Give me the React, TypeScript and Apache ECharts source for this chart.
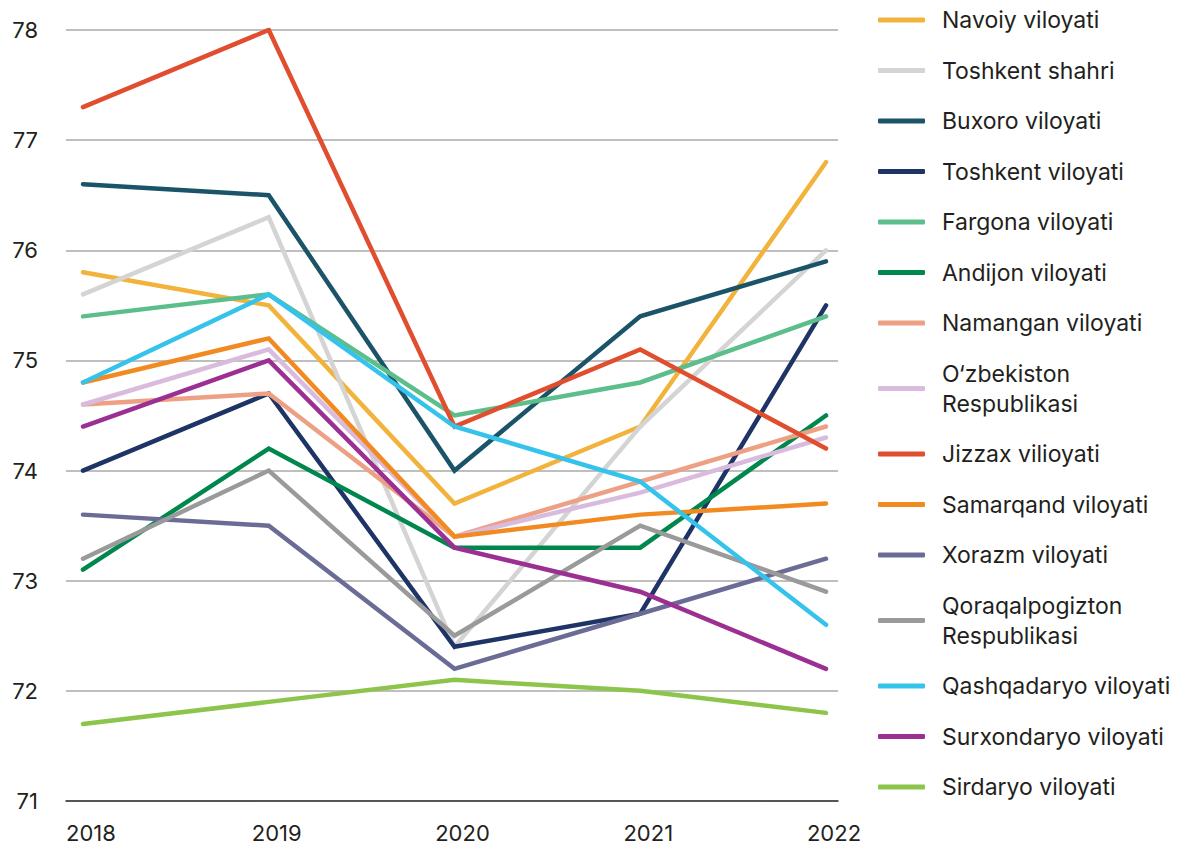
import React, { useEffect, useRef } from "react";
import * as echarts from "echarts";

const years = ["2018", "2019", "2020", "2021", "2022"];
const yTicks = { min: 71, max: 78, interval: 1 };

const navoiy = [75.8, 75.5, 73.7, 74.4, 76.8];
const toshkentShahri = [75.6, 76.3, 72.4, 74.4, 76.0];
const buxoro = [76.6, 76.5, 74.0, 75.4, 75.9];
const toshkentViloyati = [74.0, 74.7, 72.4, 72.7, 75.5];
const fargona = [75.4, 75.6, 74.5, 74.8, 75.4];
const andijon = [73.1, 74.2, 73.3, 73.3, 74.5];
const namangan = [74.6, 74.7, 73.4, 73.9, 74.4];
const ozbekiston = [74.6, 75.1, 73.4, 73.8, 74.3];
const jizzax = [77.3, 78.0, 74.4, 75.1, 74.2];
const samarqand = [74.8, 75.2, 73.4, 73.6, 73.7];
const xorazm = [73.6, 73.5, 72.2, 72.7, 73.2];
const qoraqalpogiston = [73.2, 74.0, 72.5, 73.5, 72.9];
const qashqadaryo = [74.8, 75.6, 74.4, 73.9, 72.6];
const surxondaryo = [74.4, 75.0, 73.3, 72.9, 72.2];
const sirdaryo = [71.7, 71.9, 72.1, 72.0, 71.8];

const seriesNames = [
  "Navoiy viloyati",
  "Toshkent shahri",
  "Buxoro viloyati",
  "Toshkent viloyati",
  "Fargona viloyati",
  "Andijon viloyati",
  "Namangan viloyati",
  "O‘zbekiston\nRespublikasi",
  "Jizzax vilioyati",
  "Samarqand viloyati",
  "Xorazm viloyati",
  "Qoraqalpogizton\nRespublikasi",
  "Qashqadaryo viloyati",
  "Surxondaryo viloyati",
  "Sirdaryo viloyati",
];
const seriesValues = [
  navoiy,
  toshkentShahri,
  buxoro,
  toshkentViloyati,
  fargona,
  andijon,
  namangan,
  ozbekiston,
  jizzax,
  samarqand,
  xorazm,
  qoraqalpogiston,
  qashqadaryo,
  surxondaryo,
  sirdaryo,
];
const seriesColors = [
  "#F2B33D",
  "#D4D4D4",
  "#1B5468",
  "#1F3466",
  "#5CBF8B",
  "#00874E",
  "#EDA083",
  "#D9BBDD",
  "#E04E2F",
  "#F28A22",
  "#6A6C96",
  "#9A9A9A",
  "#35C3EB",
  "#9B2F92",
  "#8DC44B",
];

const FONT = "Inter, 'Open Sans', sans-serif";
const TEXT = "#231F20";

export default function App() {
  const ref = useRef<HTMLDivElement>(null);
  useEffect(() => {
    if (!ref.current) return;
    const chart = echarts.init(ref.current, null, { renderer: "svg" });
    const series: any[] = seriesNames.map((name, i) => ({
      name,
      type: "line",
      xAxisIndex: 0,
      yAxisIndex: 0,
      data: seriesValues[i],
      showSymbol: false,
      symbol: "none",
      lineStyle: { color: seriesColors[i], width: 4.5, cap: "round", join: "miter" },
      itemStyle: { color: seriesColors[i] },
      z: 3,
    }));
    chart.setOption({
      animation: false,
      textStyle: { fontFamily: FONT },
      legend: {
        orient: "vertical",
        left: 873,
        top: 0,
        itemGap: 20.5,
        itemWidth: 47,
        itemHeight: 5,
        icon: "roundRect",
        data: seriesNames,
        textStyle: {
          fontFamily: FONT,
          fontSize: 23,
          color: TEXT,
          lineHeight: 30,
          padding: [0, 0, 0, 12],
        },
      },
      grid: [
        { left: 83, right: 368, top: 30, bottom: 45 },
        { left: 66, right: 356, top: 30, bottom: 45 },
      ],
      xAxis: [
        {
          type: "category",
          gridIndex: 0,
          data: years,
          boundaryGap: false,
          axisLine: { show: false },
          axisTick: { show: false },
          splitLine: { show: false },
          axisLabel: {
            fontFamily: FONT,
            fontSize: 22,
            color: TEXT,
            margin: 21,
            padding: [0, 0, 0, 16],
          },
        },
        {
          type: "category",
          gridIndex: 1,
          data: years,
          boundaryGap: false,
          axisLine: { show: true, lineStyle: { color: "#333333", width: 1.5 } },
          axisTick: { show: false },
          axisLabel: { show: false },
          splitLine: { show: false },
        },
      ],
      yAxis: [
        {
          type: "value",
          gridIndex: 0,
          min: yTicks.min,
          max: yTicks.max,
          interval: yTicks.interval,
          axisLabel: { show: false },
          axisLine: { show: false },
          axisTick: { show: false },
          splitLine: { show: false },
        },
        {
          type: "value",
          gridIndex: 1,
          min: yTicks.min,
          max: yTicks.max,
          interval: yTicks.interval,
          axisLine: { show: false },
          axisTick: { show: false },
          axisLabel: {
            fontFamily: FONT,
            fontSize: 22,
            color: TEXT,
            margin: 28,
          },
          splitLine: { show: true, lineStyle: { color: "#AAAAAA", width: 1.5 } },
        },
      ],
      series,
    });
    return () => chart.dispose();
  }, []);
  return (
    <div
      ref={ref}
      style={{ position: "absolute", left: 0, top: 0, width: 1194, height: 846, background: "#fff" }}
    />
  );
}
